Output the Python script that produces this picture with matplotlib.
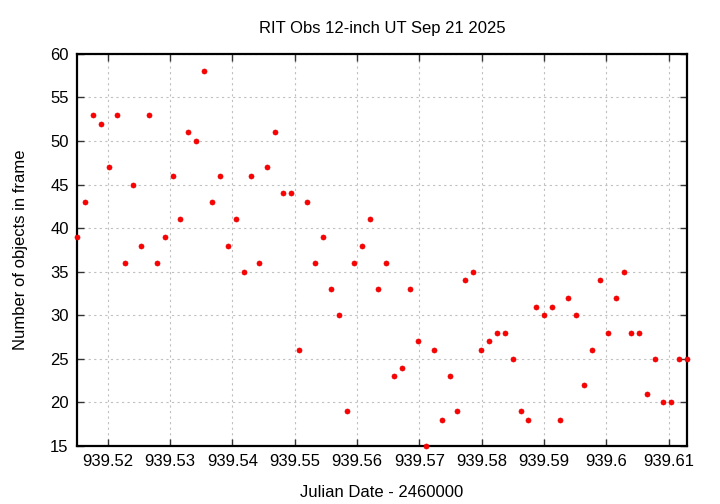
import matplotlib
matplotlib.use('Agg')
import matplotlib.pyplot as plt
from matplotlib.ticker import FuncFormatter

plt.rcParams['font.family'] = ['Liberation Sans', 'DejaVu Sans']

# Julian Date - 2460000
jd = [939.51510, 939.51643, 939.51771, 939.51894, 939.52022, 939.52155, 939.52283,
      939.52407, 939.52535, 939.52663, 939.52785, 939.52913, 939.53041, 939.53169,
      939.53292, 939.53421, 939.53549, 939.53677, 939.53805, 939.53928, 939.54056,
      939.54184, 939.54306, 939.54434, 939.54562, 939.54691, 939.54819, 939.54942,
      939.55070, 939.55198, 939.55326, 939.55450, 939.55578, 939.55706, 939.55834,
      939.55956, 939.56084, 939.56212, 939.56340, 939.56463, 939.56592, 939.56720,
      939.56848, 939.56971, 939.57099, 939.57227, 939.57356, 939.57484, 939.57605,
      939.57734, 939.57862, 939.57990, 939.58113, 939.58241, 939.58369, 939.58497,
      939.58626, 939.58749, 939.58877, 939.58999, 939.59127, 939.59255, 939.59383,
      939.59511, 939.59635, 939.59763, 939.59891, 939.60019, 939.60147, 939.60275,
      939.60398, 939.60527, 939.60655, 939.60783, 939.60905, 939.61033, 939.61161,
      939.61289]
# number of objects detected in each frame
nobj = [39, 43, 53, 52, 47, 53, 36, 45, 38, 53, 36, 39, 46, 41, 51, 50, 58, 43, 46, 38,
        41, 35, 46, 36, 47, 51, 44, 44, 26, 43, 36, 39, 33, 30, 19, 36, 38, 41, 33,
        36, 23, 24, 33, 27, 15, 26, 18, 23, 19, 34, 35, 26, 27, 28, 28, 25, 19, 18,
        31, 30, 31, 18, 32, 30, 22, 26, 34, 28, 32, 35, 28, 28, 21, 25, 20, 20, 25, 25]

xticks = [939.52, 939.53, 939.54, 939.55, 939.56, 939.57, 939.58, 939.59, 939.60, 939.61]
yticks = [15, 20, 25, 30, 35, 40, 45, 50, 55, 60]

fig = plt.figure(figsize=(7.2, 5.04), dpi=100)
ax = fig.add_axes([0.107, 0.115, 0.847, 0.778])

ax.scatter(jd, nobj, s=13, c='#ff0000', edgecolors='#e00000', linewidths=0.5, zorder=3, clip_on=False)

ax.set_xlim(jd[0], jd[-1])
ax.set_ylim(15, 60)
ax.set_xticks(xticks)
ax.set_yticks(yticks)
ax.xaxis.set_major_formatter(FuncFormatter(lambda v, p: '%g' % round(v, 2)))
ax.tick_params(direction='in', length=5, width=1, colors='#333333', labelcolor='black',
               labelsize=12, top=True, right=True, pad=6)
ax.grid(True, color='#c0c0c0', linestyle=(0, (2, 3)), linewidth=0.8)
for s in ax.spines.values():
    s.set_linewidth(1.6)
    s.set_color('black')

ax.set_title('RIT Obs 12-inch UT Sep 21 2025', fontsize=12, pad=15)
ax.set_xlabel('Julian Date - 2460000', fontsize=12, labelpad=11)
ax.set_ylabel('Number of objects in frame', fontsize=12, labelpad=16)

fig.savefig('out.png', dpi=100)
